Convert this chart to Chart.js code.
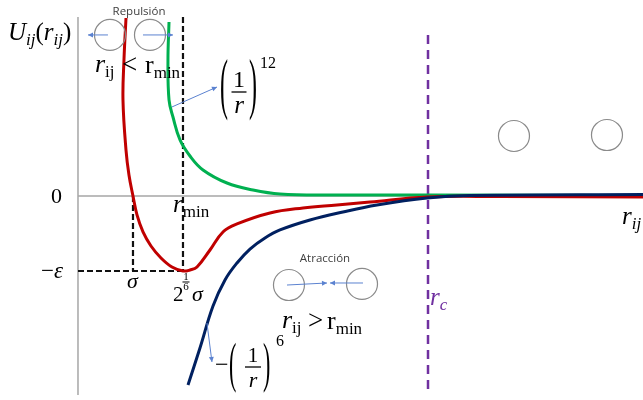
<!DOCTYPE html>
<html>
<head>
<meta charset="utf-8">
<script src="https://cdn.jsdelivr.net/npm/chart.js@4.4.0/dist/chart.umd.min.js"></script>
<style>
  html, body { margin: 0; padding: 0; background: #fff; }
  canvas { display: block; }
</style>
</head>
<body>
<canvas id="lj-chart" width="643" height="400"></canvas>
<script>
// distances in units of sigma, energies in units of epsilon (sketch, not to scale)

// Lennard-Jones potential (red)
const ljR = [0.873, 0.836, 0.818, 0.873, 0.927, 1.0, 1.073, 1.182, 1.327, 1.509, 1.709, 1.909, 2.036, 2.164, 2.4, 2.636, 2.891, 3.491, 4.091, 4.709, 5.309, 6.345, 7.673, 10.273];
const ljU = [2.373, 1.813, 1.28, 0.613, 0.28, 0, -0.253, -0.48, -0.667, -0.827, -0.947, -1, -0.987, -0.947, -0.72, -0.48, -0.373, -0.227, -0.16, -0.12, -0.08, -0.013, -0.007, -0.013];

// repulsive term (1/r)^12 (green)
const repR = [1.655, 1.636, 1.655, 1.727, 1.855, 2.036, 2.273, 2.709, 3.182, 3.673, 4.582, 6.4, 10.273];
const repU = [2.32, 1.813, 1.28, 1.053, 0.747, 0.533, 0.347, 0.173, 0.08, 0.027, 0.013, 0.013, 0.007];

// attractive term -(1/r)^6 (dark blue)
const attR = [2.0, 2.218, 2.455, 2.673, 2.891, 3.127, 3.4, 3.673, 4.218, 4.818, 5.436, 6.345, 7.127, 10.273];
const attU = [-2.52, -2.027, -1.467, -1.12, -0.893, -0.707, -0.56, -0.453, -0.32, -0.213, -0.12, -0.027, 0.007, 0.02];

// reference values
const sigma = 1;
const rMin = 1.909;
const epsilon = 1;
const rCut = 6.364;

// axis extents
const rAxisEnd = 10.273;
const uAxisTop = 2.387;
const uAxisBottom = -2.653;
const cutTop = 2.147;

// particles
const circleR = [0.582, 1.309, 3.836, 5.164, 7.927, 9.618];
const circleU = [2.147, 2.147, -1.187, -1.173, 0.8, 0.813];

const pts = (xs, ys) => xs.map((x, i) => ({ x: x, y: ys[i] }));

const it = s => 'italic ' + s + 'px "Liberation Serif"';
const rm = s => s + 'px "Liberation Serif"';

// writes pieces one after another: [text, font, dy]
function run(ctx, x, y, parts) {
  parts.forEach(p => {
    ctx.font = p[1];
    ctx.fillText(p[0], x, y + (p[2] || 0));
    x += ctx.measureText(p[0]).width;
  });
  return x;
}

// stretched bracket between top and bottom
function paren(ctx, ch, x, top, bottom, size) {
  ctx.font = rm(size);
  const m = ctx.measureText(ch);
  const gh = m.actualBoundingBoxAscent + m.actualBoundingBoxDescent;
  ctx.save();
  ctx.translate(x, top);
  ctx.scale(1, (bottom - top) / gh);
  ctx.fillText(ch, 0, m.actualBoundingBoxAscent);
  ctx.restore();
}

// 1 over r
function frac(ctx, cx, numBase, barY, denBase, barW, size) {
  ctx.textAlign = 'center';
  ctx.font = rm(size);
  ctx.fillText('1', cx, numBase);
  ctx.font = it(size + 1);
  ctx.fillText('r', cx, denBase);
  ctx.textAlign = 'left';
  ctx.lineWidth = 1.3;
  ctx.beginPath();
  ctx.moveTo(cx - barW / 2, barY);
  ctx.lineTo(cx + barW / 2, barY);
  ctx.stroke();
}

function arrow(ctx, x1, y1, x2, y2) {
  const a = Math.atan2(y2 - y1, x2 - x1);
  ctx.beginPath();
  ctx.moveTo(x1, y1);
  ctx.lineTo(x2, y2);
  ctx.stroke();
  ctx.beginPath();
  ctx.moveTo(x2, y2);
  ctx.lineTo(x2 - 5 * Math.cos(a) + 2.5 * Math.sin(a), y2 - 5 * Math.sin(a) - 2.5 * Math.cos(a));
  ctx.lineTo(x2 - 5 * Math.cos(a) - 2.5 * Math.sin(a), y2 - 5 * Math.sin(a) + 2.5 * Math.cos(a));
  ctx.closePath();
  ctx.fill();
}

const annotations = {
  id: 'annotations',
  afterDatasetsDraw(chart) {
    const ctx = chart.ctx;
    const X = v => chart.scales.x.getPixelForValue(v);
    const Y = v => chart.scales.y.getPixelForValue(v);
    ctx.save();

    // force arrows
    ctx.strokeStyle = '#5b82d0';
    ctx.fillStyle = '#5b82d0';
    ctx.lineWidth = 1;
    arrow(ctx, X(0.545), Y(2.147), X(0.182), Y(2.147));
    arrow(ctx, X(1.182), Y(2.147), X(1.727), Y(2.147));
    arrow(ctx, X(1.709), Y(1.187), X(2.527), Y(1.453));
    arrow(ctx, X(3.8), Y(-1.187), X(4.527), Y(-1.16));
    arrow(ctx, X(5.182), Y(-1.16), X(4.582), Y(-1.16));
    arrow(ctx, X(2.345), Y(-1.693), X(2.436), Y(-2.213));

    ctx.fillStyle = '#000';
    ctx.strokeStyle = '#000';
    ctx.textBaseline = 'alphabetic';

    // axis title
    run(ctx, 8, 40, [['U', it(25)], ['ij', it(17), 5], ['(', rm(25)], ['r', it(25)], ['ij', it(17), 5], [')', rm(25)]]);

    // energy marks
    ctx.font = rm(22);
    ctx.fillText('0', X(0) - 27, Y(0) + 7);
    run(ctx, X(0) - 37, Y(-epsilon) + 7, [['\u2212', rm(23)], ['\u03b5', it(23)]]);

    // distance marks
    ctx.font = it(22);
    ctx.fillText('\u03c3', X(sigma) - 6, Y(-epsilon) + 17);
    run(ctx, X(rMin) - 10, Y(0) + 16, [['r', it(25)], ['min', rm(17), 5]]);
    ctx.font = rm(21);
    ctx.fillText('2', X(rMin) - 10, Y(-epsilon) + 30);
    ctx.font = rm(11);
    ctx.textAlign = 'center';
    ctx.fillText('1', X(rMin) + 3, Y(-epsilon) + 9);
    ctx.fillText('6', X(rMin) + 3, Y(-epsilon) + 19);
    ctx.textAlign = 'left';
    ctx.lineWidth = 1;
    ctx.beginPath();
    ctx.moveTo(X(rMin) - 0.5, Y(-epsilon) + 11);
    ctx.lineTo(X(rMin) + 6.5, Y(-epsilon) + 11);
    ctx.stroke();
    ctx.font = it(22);
    ctx.fillText('\u03c3', X(rMin) + 9, Y(-epsilon) + 30);

    run(ctx, 622, 224, [['r', it(25)], ['ij', it(17), 5]]);

    ctx.fillStyle = '#7030a0';
    run(ctx, X(rCut) + 2, 305, [['r', it(25)], ['c', it(17), 5]]);
    ctx.fillStyle = '#000';

    // regime captions
    ctx.fillStyle = '#404040';
    ctx.font = '11.5px "Open Sans"';
    ctx.textAlign = 'center';
    ctx.fillText('Repulsi\u00f3n', 139, 15);
    ctx.fillText('Atracci\u00f3n', 325, 262);
    ctx.textAlign = 'left';
    ctx.fillStyle = '#000';

    run(ctx, 95, 72, [['r', it(26)], ['ij', rm(17), 5]]);
    ctx.font = rm(27);
    ctx.fillText('<', 122, 73);
    run(ctx, 145, 73, [['r', rm(26)], ['min', rm(17), 5]]);

    run(ctx, 282, 328, [['r', it(26)], ['ij', rm(17), 5]]);
    ctx.font = rm(27);
    ctx.fillText('>', 308, 329);
    run(ctx, 327, 329, [['r', rm(26)], ['min', rm(17), 5]]);

    // (1/r)^12
    paren(ctx, '(', 220, 58, 120, 24);
    frac(ctx, 239, 87, 92, 113, 15, 24);
    paren(ctx, ')', 249, 58, 120, 24);
    ctx.font = rm(16);
    ctx.fillText('12', 260, 68);

    // -(1/r)^6
    ctx.font = rm(24);
    ctx.fillText('\u2212', 215, 372);
    paren(ctx, '(', 229, 343, 393, 22);
    frac(ctx, 253, 362, 367, 387, 16, 21);
    paren(ctx, ')', 263, 343, 393, 22);
    ctx.font = rm(16);
    ctx.fillText('6', 276, 346);

    ctx.restore();
  }
};

new Chart(document.getElementById('lj-chart'), {
  type: 'scatter',
  data: {
    datasets: [
      {
        label: 'axes-u',
        data: pts([0, 0], [uAxisTop, uAxisBottom]),
        showLine: true, borderColor: '#a6a6a6', borderWidth: 1.5, pointRadius: 0, order: 10
      },
      {
        label: 'axes-r',
        data: pts([0, rAxisEnd], [0, 0]),
        showLine: true, borderColor: '#a6a6a6', borderWidth: 1.5, pointRadius: 0, order: 10
      },
      {
        label: 'sigma',
        data: pts([sigma, sigma], [0, -epsilon]),
        showLine: true, borderColor: '#111', borderWidth: 2.2, borderDash: [6, 3], pointRadius: 0, order: 5
      },
      {
        label: 'rmin',
        data: pts([rMin, rMin], [uAxisTop, -epsilon]),
        showLine: true, borderColor: '#111', borderWidth: 2.2, borderDash: [6, 3], pointRadius: 0, order: 5
      },
      {
        label: 'epsilon',
        data: pts([0, rMin], [-epsilon, -epsilon]),
        showLine: true, borderColor: '#111', borderWidth: 2.2, borderDash: [6, 3], pointRadius: 0, order: 5
      },
      {
        label: 'rc',
        data: pts([rCut, rCut], [cutTop, uAxisBottom]),
        showLine: true, borderColor: '#7030a0', borderWidth: 2.5, borderDash: [9, 6], pointRadius: 0, order: 5
      },
      {
        label: 'repulsion',
        data: pts(repR, repU),
        showLine: true, borderColor: '#00b050', borderWidth: 3, tension: 0.4, pointRadius: 0, order: 3
      },
      {
        label: 'lj',
        data: pts(ljR, ljU),
        showLine: true, borderColor: '#c00000', borderWidth: 3, tension: 0.4, pointRadius: 0, order: 2
      },
      {
        label: 'attraction',
        data: pts(attR, attU),
        showLine: true, borderColor: '#002060', borderWidth: 3, tension: 0.4, pointRadius: 0, order: 1
      },
      {
        label: 'particles',
        data: pts(circleR, circleU),
        showLine: false, pointRadius: 15.5, pointBackgroundColor: 'rgba(0,0,0,0)',
        pointBorderColor: '#8a8a8a', pointBorderWidth: 1.2, order: 0
      }
    ]
  },
  options: {
    responsive: false,
    animation: false,
    events: [],
    layout: { padding: 0, autoPadding: false },
    plugins: { legend: { display: false }, tooltip: { enabled: false } },
    scales: {
      x: { type: 'linear', min: -1.418, max: 10.273, display: false },
      y: { type: 'linear', min: -2.72, max: 2.613, display: false }
    }
  },
  plugins: [annotations]
});
</script>
</body>
</html>
